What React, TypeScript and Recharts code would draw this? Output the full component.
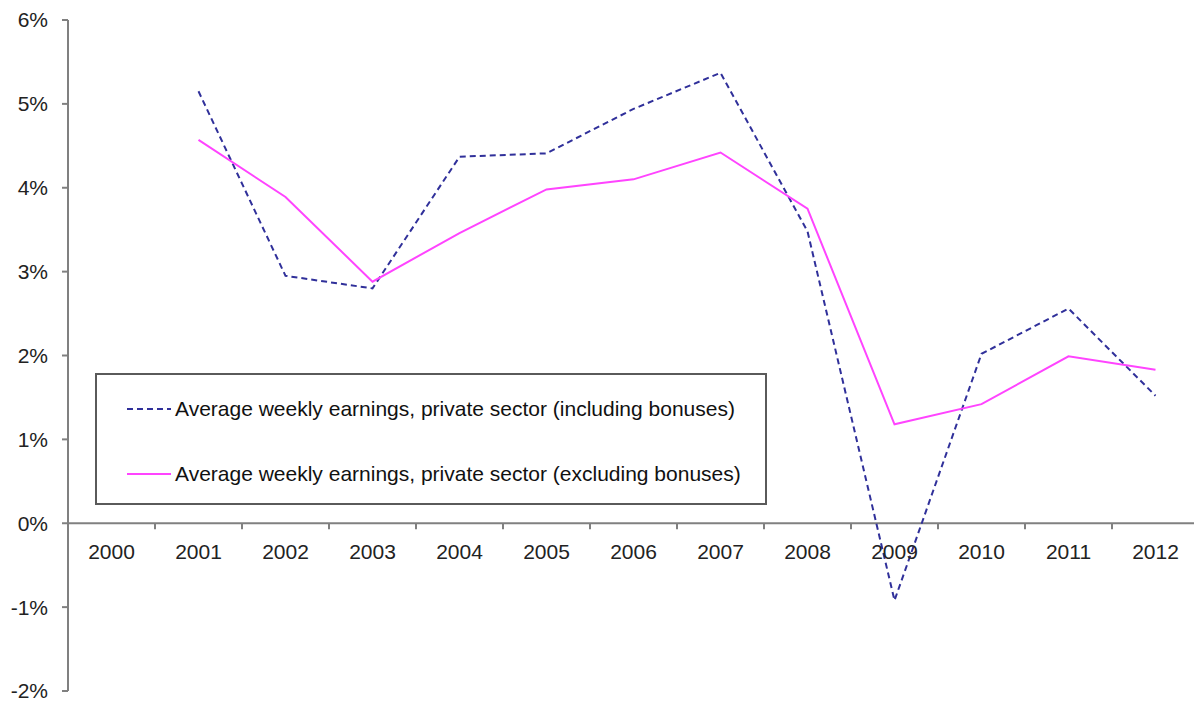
import { LineChart, Line, ReferenceLine, XAxis, YAxis } from "recharts";

const years = ["2000", "2001", "2002", "2003", "2004", "2005", "2006", "2007", "2008", "2009", "2010", "2011", "2012"];
const inclBonuses = [null, 5.15, 2.95, 2.8, 4.37, 4.41, 4.94, 5.37, 3.48, -0.92, 2.02, 2.56, 1.52];
const exclBonuses = [null, 4.57, 3.89, 2.88, 3.46, 3.98, 4.1, 4.42, 3.75, 1.18, 1.42, 1.99, 1.83];
const yTicks = [-2, -1, 0, 1, 2, 3, 4, 5, 6];

const inclLabel = "Average weekly earnings, private sector (including bonuses)";
const exclLabel = "Average weekly earnings, private sector (excluding bonuses)";

const W = 1200;
const H = 704;
const TOP = 20;
const BOTTOM = 13;
const Y_MIN = -2;
const Y_MAX = 6;
// pixel row of the 0% line, used to place the category labels on it
const zeroY = TOP + ((Y_MAX - 0) / (Y_MAX - Y_MIN)) * (H - TOP - BOTTOM);

const font = "'Liberation Sans', Arial, Helvetica, sans-serif";

const data = years.map((year, i) => ({
  year,
  incl: inclBonuses[i],
  excl: exclBonuses[i]
}));

function YearTick(props: any) {
  const { x, payload, index } = props;
  const half = payload.offset ?? 0;
  return (
    <g>
      {index > 0 && (
        <line x1={x - half} x2={x - half} y1={zeroY} y2={zeroY + 6} stroke="#808080" strokeWidth={2} />
      )}
      <text x={x} y={zeroY + 36} textAnchor="middle" fontSize={21} fill="#222" fontFamily={font}>
        {payload.value}
      </text>
    </g>
  );
}

function LegendBox() {
  const row = { position: "absolute" as const, left: 30, display: "flex", alignItems: "center" };
  return (
    <div
      style={{
        position: "absolute",
        left: 95,
        top: 373,
        width: 668,
        height: 128,
        border: "2px solid #5a5a5a",
        background: "#fff",
        fontFamily: font,
        fontSize: 21,
        color: "#111"
      }}
    >
      <div style={{ ...row, top: 22 }}>
        <svg width={44} height={4} style={{ marginRight: 4 }}>
          <line x1={0} x2={44} y1={2} y2={2} stroke="#30309a" strokeWidth={2} strokeDasharray="6 4" />
        </svg>
        <span>{inclLabel}</span>
      </div>
      <div style={{ ...row, top: 87 }}>
        <svg width={44} height={4} style={{ marginRight: 4 }}>
          <line x1={0} x2={44} y1={2} y2={2} stroke="#ff44ff" strokeWidth={2} />
        </svg>
        <span>{exclLabel}</span>
      </div>
    </div>
  );
}

export default function App() {
  return (
    <div style={{ position: "absolute", left: 0, top: 0, width: 1194, height: H, overflow: "hidden", background: "#fff" }}>
      <style>{`body{margin:0;overflow:hidden}`}</style>
      <LineChart width={W} height={H} data={data} margin={{ top: TOP, right: 1, bottom: 0, left: 0 }}>
        <XAxis
          dataKey="year"
          scale="band"
          height={BOTTOM}
          axisLine={false}
          tickLine={false}
          interval={0}
          tick={<YearTick />}
        />
        <YAxis
          width={68}
          domain={[Y_MIN, Y_MAX]}
          ticks={yTicks}
          interval={0}
          tickFormatter={(v: number) => `${v}%`}
          axisLine={{ stroke: "#808080", strokeWidth: 2 }}
          tickLine={{ stroke: "#808080", strokeWidth: 2 }}
          tickSize={6}
          tickMargin={14}
          tick={{ fontSize: 21, fill: "#222", fontFamily: font }}
        />
        <ReferenceLine y={0} stroke="#808080" strokeWidth={2} />
        <Line
          dataKey="incl"
          name={inclLabel}
          stroke="#30309a"
          strokeWidth={2}
          strokeDasharray="6 4"
          dot={false}
          activeDot={false}
          isAnimationActive={false}
        />
        <Line
          dataKey="excl"
          name={exclLabel}
          stroke="#ff44ff"
          strokeWidth={2}
          dot={false}
          activeDot={false}
          isAnimationActive={false}
        />
      </LineChart>
      <LegendBox />
    </div>
  );
}
